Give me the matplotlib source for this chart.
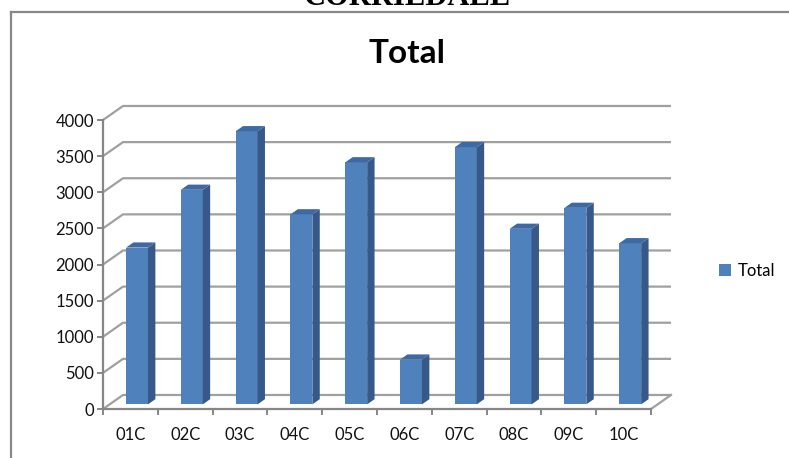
import numpy as np
import matplotlib
matplotlib.use("Agg")
import matplotlib.pyplot as plt
from matplotlib.lines import Line2D

# ---- data ----
categories = ["01C", "02C", "03C", "04C", "05C", "06C", "07C", "08C", "09C", "10C"]
totals = [2170, 2970, 3780, 2630, 3350, 620, 3560, 2430, 2720, 2230]
y_ticks = [0, 500, 1000, 1500, 2000, 2500, 3000, 3500, 4000]
series_name = "Total"

# ---- style ----
W, H, DPI = 789, 458, 100
FRONT = "#4f81bd"
SIDE = "#36598a"
TOP = "#3f69a3"
GRID = "#a0a0a0"
AXIS = "#868686"

plt.rcParams["font.family"] = ["Lato", "DejaVu Sans"]

fig = plt.figure(figsize=(W / DPI, H / DPI), dpi=DPI)

# pseudo 3-D depth in data units (floor depth) and bar placement
DX = 0.365
DY = 194
y_top = y_ticks[-1]
n = len(categories)
f0, f1 = 0.33, 0.70     # bar front/back depth fraction
bar_w = 0.4

# axes placed so that x=0..10, y=0..4000 is the front plane
left_px, bottom_px = 103, 409
px_per_x = 54.8
px_per_y = 289 / 4000
ax = fig.add_axes([left_px / W, (H - bottom_px) / H,
                   (n + DX) * px_per_x / W, (y_top + DY) * px_per_y / H])
ax.set_xlim(0, n + DX)
ax.set_ylim(0, y_top + DY)
ax.patch.set_alpha(0)

# gridlines: side-wall diagonal + back-wall horizontal
for v in y_ticks:
    ax.plot([0, DX, n + DX], [v, v + DY, v + DY], color=GRID, lw=1.6,
            solid_capstyle="butt", zorder=1, clip_on=False)
# floor right edge
ax.plot([n, n + DX], [0, DY], color=GRID, lw=1.6, zorder=1, clip_on=False)

# bars (front face sits on the plane at depth f0)
x = np.arange(n) + 0.5 + f0 * DX
vals = np.array(totals)
b = f0 * DY
bars = ax.bar(x, vals, width=bar_w, bottom=b, color=FRONT,
              edgecolor="none", zorder=3, label=series_name)
ddx = (f1 - f0) * DX
ddy = (f1 - f0) * DY
for xi, v in zip(x, vals):
    xl, xr = xi - bar_w / 2, xi + bar_w / 2
    t = v + b
    ax.fill([xr, xr + ddx, xr + ddx, xr], [b, b + ddy, t + ddy, t],
            color=SIDE, lw=0, zorder=3)
    ax.fill([xl, xr, xr + ddx, xl + ddx], [t, t, t + ddy, t + ddy],
            color=TOP, lw=0, zorder=3)

# front axes (real spines and ticks)
for s in ["top", "right"]:
    ax.spines[s].set_visible(False)
for s in ["left", "bottom"]:
    ax.spines[s].set_color(AXIS)
    ax.spines[s].set_linewidth(1.6)
    ax.spines[s].set_zorder(5)
ax.spines["left"].set_bounds(0, y_top)
ax.spines["bottom"].set_bounds(0, n)

ax.set_yticks(y_ticks)
ax.set_yticklabels([str(v) for v in y_ticks])
ax.set_xticks(np.arange(n + 1))
ax.set_xticklabels([])
ax.set_xticks(np.arange(n) + 0.5, minor=True)
ax.set_xticklabels(categories, minor=True)
ax.tick_params(axis="y", length=4.5, width=1.4, color=AXIS, pad=2,
               labelsize=12, labelcolor="#111111")
ax.tick_params(axis="x", which="major", length=4, width=1.4, color=AXIS)
ax.tick_params(axis="x", which="minor", length=0, pad=13,
               labelsize=12, labelcolor="#111111")

# legend
fig.legend(handles=[bars], labels=[series_name], loc="center left",
           bbox_to_anchor=(719 / W, (H - 271) / H), frameon=False,
           fontsize=12, handlelength=0.7, handleheight=0.7,
           handletextpad=0.45, borderpad=0, borderaxespad=0)

# titles
fig.text(407 / W, (H - 63) / H, "Total", ha="center", va="baseline",
         fontsize=24, fontweight="bold", color="black")
# page heading above the chart, partly cropped at the top edge as in the source
fig.text(407.5 / W, (H - 5) / H, "CORRIEDALE", ha="center", va="baseline",
         fontsize=22, fontweight="bold", family="Liberation Serif", color="black")

# chart frame (runs off the right and bottom edges)
fig.add_artist(Line2D([10.5 / W, 10.5 / W], [0, (H - 12) / H],
                      transform=fig.transFigure, color="#888888", lw=1.6))
fig.add_artist(Line2D([10.5 / W, 1], [(H - 12) / H, (H - 12) / H],
                      transform=fig.transFigure, color="#888888", lw=1.6))

fig.savefig("out.png", dpi=DPI)
